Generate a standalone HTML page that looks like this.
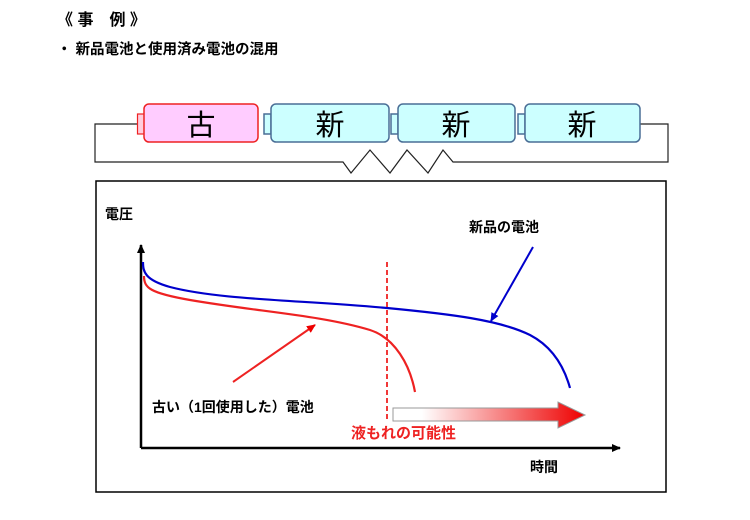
<!DOCTYPE html>
<html><head><meta charset="utf-8"><style>
body{margin:0;background:#fff;width:750px;height:515px;overflow:hidden}
text{font-family:"Liberation Sans","Noto Sans CJK JP",sans-serif}
</style></head><body>
<svg width="750" height="515" viewBox="0 0 750 515" xmlns="http://www.w3.org/2000/svg">
<defs>
<linearGradient id="g" x1="0" x2="1" y1="0" y2="0">
<stop offset="0" stop-color="#fff"/><stop offset="0.15" stop-color="#fff"/><stop offset="1" stop-color="#e00"/></linearGradient>
<marker id="ab" markerWidth="10" markerHeight="10" refX="8" refY="5" orient="auto" markerUnits="userSpaceOnUse"><path d="M0,1 L9,5 L0,9 z" fill="#000"/></marker>
<marker id="ar" markerWidth="10" markerHeight="10" refX="8" refY="5" orient="auto" markerUnits="userSpaceOnUse"><path d="M0,1 L9,5 L0,9 z" fill="#e00"/></marker>
<marker id="abl" markerWidth="10" markerHeight="10" refX="8" refY="5" orient="auto" markerUnits="userSpaceOnUse"><path d="M0,1 L9,5 L0,9 z" fill="#00c"/></marker>
</defs>
<text x="57" y="25" font-size="16" font-weight="bold">《 事　例 》</text>
<text x="57" y="54" font-size="14.5" font-weight="bold">・ 新品電池と使用済み電池の混用</text>
<!-- circuit -->
<path d="M137,124 H95 V162 H343 L351,173 L370,150 L390,173 L407,150 L428,173 L443,150 L453,162 H668 V124 H640" fill="none" stroke="#222" stroke-width="1.2"/>
<rect x="137.5" y="114" width="7" height="20" fill="#fcd" stroke="#e22" stroke-width="1.2"/>
<rect x="144" y="104" width="114" height="38" rx="5" fill="#fcf" stroke="#e22" stroke-width="1.5"/>
<text x="201" y="135" font-size="29" text-anchor="middle">古</text>
<g stroke="#4a6e96" stroke-width="1.5" fill="#cff">
<rect x="264" y="114" width="7" height="20"/><rect x="271" y="104" width="118" height="38" rx="5"/>
<rect x="391" y="114" width="7" height="20"/><rect x="398" y="104" width="117" height="38" rx="5"/>
<rect x="518" y="114" width="7" height="20"/><rect x="525" y="104" width="115" height="38" rx="5"/>
</g>
<text x="330" y="135" font-size="29" text-anchor="middle">新</text>
<text x="456" y="135" font-size="29" text-anchor="middle">新</text>
<text x="582" y="135" font-size="29" text-anchor="middle">新</text>
<!-- chart box -->
<rect x="96" y="181" width="570" height="311" fill="none" stroke="#000" stroke-width="1.5"/>
<line x1="141" y1="448" x2="141" y2="245" stroke="#000" stroke-width="2.5" marker-end="url(#ab)"/>
<line x1="141" y1="448" x2="620" y2="448" stroke="#000" stroke-width="2.5" marker-end="url(#ab)"/>
<text x="105" y="219" font-size="14" font-weight="bold">電圧</text>
<text x="530" y="472" font-size="14" font-weight="bold">時間</text>
<text x="469" y="232" font-size="14" font-weight="bold">新品の電池</text>
<text x="152" y="412" font-size="14" font-weight="bold">古い（1回使用した）電池</text>
<text x="351" y="438" font-size="15" font-weight="bold" fill="#e22">液もれの可能性</text>
<path d="M143,262 C143,272 145,280 170,287 C220,300 300,300 387,308 C450,314 500,320 530,335 C555,348 565,370 570,388" fill="none" stroke="#00c" stroke-width="2.2"/>
<path d="M144,276 C144,288 150,293 190,300 C260,312 320,315 370,330 C395,338 410,365 415,392" fill="none" stroke="#e22" stroke-width="2.2"/>
<line x1="387" y1="262" x2="387" y2="420" stroke="#e22" stroke-width="1.8" stroke-dasharray="5,3"/>
<line x1="233" y1="382" x2="315" y2="325" stroke="#e22" stroke-width="2" marker-end="url(#ar)"/>
<line x1="533" y1="247" x2="491" y2="321" stroke="#00c" stroke-width="2" marker-end="url(#abl)"/>
<path d="M393,408 H558 V402 L585,415 L558,428 V421 H393 Z" fill="url(#g)" stroke="#999" stroke-width="1"/>
</svg>
</body></html>
